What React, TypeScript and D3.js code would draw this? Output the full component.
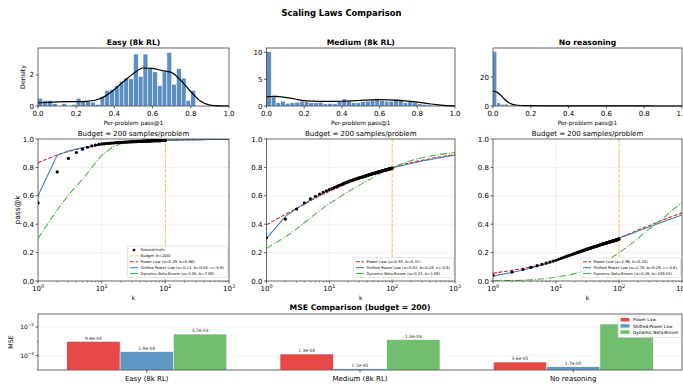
import React from "react";
import * as d3 from "d3";

const W = 683;
const H = 391;
const FONT = "DejaVu Sans, Verdana, sans-serif";

// ---- data ----
const PANEL_TITLES = ["Easy (8k RL)", "Medium (8k RL)", "No reasoning"];

// histogram (density) per panel, bins start at 0
const HIST_BIN_WIDTH = [0.025, 0.025, 0.02];
const HIST_EASY = [
  0.5, 0.35, 0.35, 0.15, 0, 0.15, 0, 0.1, 0.5, 0.3, 0.3, 0.25, 0.1, 0.6, 1.0, 1.05, 1.3, 1.6, 1.8, 1.75,
  3.35, 1.9, 3.35, 2.4, 2.2, 1.3, 2.2, 3.45, 1.4, 2.4, 1.8, 0.35, 1.0,
];
const HIST_MEDIUM = [
  10.1, 2.0, 0.6, 0.9, 0.5, 0.6, 0.7, 0.9, 0.8, 0.6, 0.6, 0.7, 0.4, 0.5, 0.4, 0.8, 1.3, 0.9, 0.6, 0.6,
  0.8, 0.9, 1.1, 1.4, 1.0, 0.9, 0.9, 1.3, 1.2, 0.6, 0.9, 0.7, 0.4, 0.3, 0.2,
];
const HIST_NONE = [37.6, 2.1, 1.2, 1.3, 0.4, 0.3, 0.2, 0.2, 0.1, 0.1, 0.05, 0.05, 0, 0.05, 0, 0.05];
const HIST_YMAX = [3.74, 10.8, 40];
const HIST_YTICKS = [[0, 2], [0, 5, 10], [0, 20]];

// KDE curves
const KDE_X = [0, 0.05, 0.1, 0.15, 0.2, 0.25, 0.3, 0.35, 0.4, 0.45, 0.5, 0.55, 0.6, 0.65, 0.7, 0.75, 0.8, 0.85, 0.9, 0.95, 1.0];
const KDE_EASY = [0.2, 0.24, 0.27, 0.28, 0.28, 0.3, 0.37, 0.62, 1.06, 1.6, 2.1, 2.45, 2.42, 2.28, 2.15, 1.62, 0.92, 0.32, 0.06, 0.01, 0];
const KDE_MEDIUM = [1.72, 1.8, 1.6, 1.3, 1.0, 0.9, 0.85, 0.85, 0.88, 0.95, 1.05, 1.15, 1.2, 1.15, 1.05, 0.9, 0.72, 0.48, 0.25, 0.08, 0.02];
const KDE_NONE_X = [0, 0.02, 0.04, 0.06, 0.08, 0.1, 0.12, 0.15, 0.2, 0.3, 0.4, 0.5, 0.6, 0.7, 0.8, 0.9, 1.0];
const KDE_NONE = [10.2, 9.6, 7.6, 4.8, 2.6, 1.3, 0.7, 0.35, 0.2, 0.12, 0.1, 0.1, 0.07, 0.04, 0.02, 0.01, 0];

// ground truth pass@k for k = 1..100
const GT_EASY = [
  0.55, 0.768, 0.863, 0.905, 0.928, 0.942, 0.951, 0.957, 0.962, 0.965,
  0.967, 0.969, 0.97, 0.971, 0.972, 0.973, 0.974, 0.975, 0.976, 0.976,
  0.977, 0.977, 0.978, 0.978, 0.979, 0.979, 0.98, 0.98, 0.98, 0.981,
  0.981, 0.981, 0.982, 0.982, 0.982, 0.983, 0.983, 0.983, 0.983, 0.984,
  0.984, 0.984, 0.984, 0.985, 0.985, 0.985, 0.985, 0.985, 0.986, 0.986,
  0.986, 0.986, 0.986, 0.986, 0.987, 0.987, 0.987, 0.987, 0.987, 0.987,
  0.987, 0.988, 0.988, 0.988, 0.988, 0.988, 0.988, 0.988, 0.988, 0.989,
  0.989, 0.989, 0.989, 0.989, 0.989, 0.989, 0.989, 0.989, 0.989, 0.989,
  0.989, 0.989, 0.989, 0.989, 0.99, 0.99, 0.99, 0.99, 0.99, 0.99,
  0.99, 0.99, 0.99, 0.99, 0.99, 0.99, 0.99, 0.99, 0.99, 0.99,
];
const GT_MEDIUM = [
  0.304, 0.436, 0.507, 0.55, 0.578, 0.597, 0.612, 0.625, 0.635, 0.643,
  0.651, 0.658, 0.665, 0.671, 0.676, 0.682, 0.687, 0.691, 0.696, 0.7,
  0.703, 0.706, 0.709, 0.712, 0.714, 0.717, 0.719, 0.721, 0.724, 0.726,
  0.728, 0.73, 0.732, 0.733, 0.735, 0.737, 0.739, 0.74, 0.742, 0.743,
  0.745, 0.746, 0.748, 0.749, 0.75, 0.752, 0.753, 0.754, 0.756, 0.757,
  0.758, 0.759, 0.76, 0.761, 0.762, 0.763, 0.764, 0.765, 0.766, 0.767,
  0.768, 0.769, 0.77, 0.771, 0.771, 0.772, 0.773, 0.774, 0.775, 0.776,
  0.776, 0.777, 0.778, 0.779, 0.779, 0.78, 0.781, 0.781, 0.782, 0.783,
  0.783, 0.784, 0.785, 0.785, 0.786, 0.787, 0.787, 0.788, 0.788, 0.789,
  0.79, 0.79, 0.791, 0.791, 0.792, 0.792, 0.793, 0.794, 0.794, 0.795,
];
const GT_NONE = [
  0.04, 0.063, 0.082, 0.096, 0.108, 0.118, 0.126, 0.133, 0.14, 0.146,
  0.153, 0.159, 0.165, 0.17, 0.175, 0.179, 0.183, 0.188, 0.191, 0.195,
  0.198, 0.201, 0.204, 0.207, 0.21, 0.212, 0.215, 0.217, 0.219, 0.222,
  0.224, 0.226, 0.228, 0.23, 0.232, 0.233, 0.235, 0.237, 0.238, 0.24,
  0.241, 0.243, 0.244, 0.246, 0.247, 0.248, 0.25, 0.251, 0.253, 0.255,
  0.256, 0.257, 0.258, 0.259, 0.26, 0.261, 0.262, 0.263, 0.264, 0.265,
  0.266, 0.267, 0.268, 0.269, 0.27, 0.271, 0.272, 0.272, 0.273, 0.274,
  0.275, 0.276, 0.276, 0.277, 0.278, 0.279, 0.28, 0.28, 0.281, 0.282,
  0.283, 0.283, 0.284, 0.285, 0.285, 0.286, 0.287, 0.287, 0.288, 0.289,
  0.289, 0.29, 0.291, 0.291, 0.292, 0.293, 0.293, 0.294, 0.294, 0.296,
];

// fitted curves, sampled at these k
const FIT_K = [1, 2, 3, 4, 5, 7, 10, 15, 20, 30, 50, 70, 100, 150, 200, 300, 500, 700, 1000];
const POWER_EASY = [0.833, 0.888, 0.912, 0.926, 0.935, 0.947, 0.958, 0.967, 0.972, 0.978, 0.984, 0.987, 0.99, 0.992, 0.993, 0.995, 0.996, 0.997, 0.998];
const SHIFTED_EASY = [0.6, 0.885, 0.915, 0.93, 0.94, 0.95, 0.96, 0.968, 0.973, 0.979, 0.984, 0.987, 0.99, 0.992, 0.993, 0.994, 0.996, 0.996, 0.997];
const BETA_EASY = [0.3, 0.5, 0.605, 0.67, 0.715, 0.8, 0.885, 0.945, 0.967, 0.984, 0.992, 0.995, 0.997, 0.998, 0.999, 0.999, 1, 1, 1];
const POWER_MEDIUM = [0.396, 0.47, 0.51, 0.54, 0.565, 0.6, 0.63, 0.665, 0.69, 0.72, 0.755, 0.78, 0.8, 0.82, 0.835, 0.85, 0.87, 0.88, 0.89];
const SHIFTED_MEDIUM = [0.3, 0.455, 0.51, 0.545, 0.57, 0.605, 0.64, 0.672, 0.695, 0.725, 0.758, 0.778, 0.797, 0.815, 0.828, 0.845, 0.863, 0.875, 0.885];
const BETA_MEDIUM = [0.23, 0.31, 0.365, 0.41, 0.445, 0.495, 0.545, 0.595, 0.63, 0.675, 0.73, 0.765, 0.797, 0.83, 0.848, 0.868, 0.887, 0.897, 0.905];
const POWER_NONE = [0.055, 0.075, 0.088, 0.099, 0.108, 0.123, 0.15, 0.172, 0.19, 0.215, 0.25, 0.275, 0.305, 0.335, 0.36, 0.39, 0.43, 0.455, 0.48];
const SHIFTED_NONE = [0.035, 0.06, 0.078, 0.092, 0.103, 0.12, 0.145, 0.17, 0.188, 0.213, 0.248, 0.273, 0.303, 0.33, 0.352, 0.38, 0.418, 0.44, 0.465];
const BETA_NONE = [0, 0.003, 0.006, 0.009, 0.012, 0.018, 0.027, 0.04, 0.052, 0.075, 0.12, 0.155, 0.198, 0.255, 0.3, 0.365, 0.44, 0.5, 0.55];

const LEGEND_POWER = ["Power Law (a=0.29, b=0.86)", "Power Law (a=0.93, b=0.31)", "Power Law (a=2.96, b=0.20)"];
const LEGEND_SHIFTED = [
  "Shifted Power Law (a=0.13, b=0.58, c=-0.9)",
  "Shifted Power Law (a=0.82, b=0.28, c=-0.8)",
  "Shifted Power Law (a=2.78, b=0.29, c=-0.6)",
];
const LEGEND_BETA = [
  "Dynamic Beta-Binom (a=3.05, b=7.08)",
  "Dynamic Beta-Binom (a=0.33, b=1.08)",
  "Dynamic Beta-Binom (a=0.26, b=108.53)",
];
const BUDGET_K = 100;

// MSE
const MSE_POWER = [9.8e-4, 1.3e-4, 3.6e-5];
const MSE_SHIFTED = [1.9e-4, 1.2e-5, 1.7e-5];
const MSE_BETA = [3.2e-3, 1.3e-3, 1.6e-2];
const MSE_SERIES = ["Power Law", "Shifted Power Law", "Dynamic Beta-Binom"];

const RED = "#e41a1c";
const BLUE = "#377eb8";
const GREEN = "#4daf4a";
const HIST_COLOR = "#5b8fc4";

const PANEL_X: [number, number][] = [[38, 229], [266.5, 455], [493, 682]];

const HISTS = [HIST_EASY, HIST_MEDIUM, HIST_NONE];
const KDES = [
  { x: KDE_X, y: KDE_EASY },
  { x: KDE_X, y: KDE_MEDIUM },
  { x: KDE_NONE_X, y: KDE_NONE },
];
const GTS = [GT_EASY, GT_MEDIUM, GT_NONE];
const FITS = [
  [POWER_EASY, SHIFTED_EASY, BETA_EASY],
  [POWER_MEDIUM, SHIFTED_MEDIUM, BETA_MEDIUM],
  [POWER_NONE, SHIFTED_NONE, BETA_NONE],
];

const sci = (v: number) => {
  const [m, e] = v.toExponential(1).split("e");
  const n = Math.abs(+e);
  return `${m}e${+e < 0 ? "-" : "+"}${n < 10 ? "0" + n : n}`;
};

const Pow10 = ({ x, y, e, size = 7 }: { x: number; y: number; e: number; size?: number }) => (
  <text x={x} y={y} textAnchor="middle" fontSize={size}>
    10
    <tspan dy={-3.2} fontSize={size * 0.7}>
      {e < 0 ? "\u2212" + Math.abs(e) : e}
    </tspan>
  </text>
);

const HistPanel = ({ i }: { i: number }) => {
  const [x0, x1] = PANEL_X[i];
  const top = 48;
  const bottom = 106;
  const x = d3.scaleLinear().domain([0, 1]).range([x0, x1]);
  const y = d3.scaleLinear().domain([0, HIST_YMAX[i]]).range([bottom, top]);
  const bw = HIST_BIN_WIDTH[i];
  const kde = KDES[i];
  const line = d3
    .line<number>()
    .x((_, j) => x(kde.x[j]))
    .y((d) => y(d))
    .curve(d3.curveMonotoneX);
  return (
    <g>
      {HISTS[i].map((v, j) =>
        v > 0 ? (
          <rect
            key={j}
            x={x(j * bw)}
            y={y(v)}
            width={x(bw) - x(0)}
            height={bottom - y(v)}
            fill={HIST_COLOR}
            stroke="#fff"
            strokeWidth={0.5}
          />
        ) : null
      )}
      <path d={line(kde.y) || ""} fill="none" stroke="#000" strokeWidth={1.2} />
      <rect x={x0} y={top} width={x1 - x0} height={bottom - top} fill="none" stroke="#000" strokeWidth={0.6} />
      {d3.range(0, 1.01, 0.2).map((t) => (
        <g key={t}>
          <line x1={x(t)} x2={x(t)} y1={bottom} y2={bottom + 2.5} stroke="#000" strokeWidth={0.6} />
          <text x={x(t)} y={bottom + 9.5} textAnchor="middle" fontSize={7}>
            {t.toFixed(1)}
          </text>
        </g>
      ))}
      {HIST_YTICKS[i].map((t) => (
        <g key={t}>
          <line x1={x0 - 2.5} x2={x0} y1={y(t)} y2={y(t)} stroke="#000" strokeWidth={0.6} />
          <text x={x0 - 4} y={y(t) + 2.5} textAnchor="end" fontSize={7}>
            {t}
          </text>
        </g>
      ))}
      <text x={(x0 + x1) / 2} y={45} textAnchor="middle" fontSize={7.7} fontWeight="bold">
        {PANEL_TITLES[i]}
      </text>
      <text x={(x0 + x1) / 2} y={124.5} textAnchor="middle" fontSize={5.8}>
        Per-problem pass@1
      </text>
      {i === 0 && (
        <text transform={`translate(25,${(top + bottom) / 2}) rotate(-90)`} textAnchor="middle" fontSize={6.3}>
          Density
        </text>
      )}
    </g>
  );
};

const ScalingPanel = ({ i }: { i: number }) => {
  const [x0, x1] = PANEL_X[i];
  const top = 139;
  const bottom = 281;
  const x = d3.scaleLog().domain([1, 1000]).range([x0, x1]);
  const y = d3.scaleLinear().domain([0, 1]).range([bottom, top]);
  const fitLine = d3
    .line<number>()
    .x((_, j) => x(FIT_K[j]))
    .y((d) => y(d));
  const [pw, sh, bb] = FITS[i];
  const minor: number[] = [];
  [1, 10, 100].forEach((d) => d3.range(2, 10).forEach((m) => minor.push(d * m)));
  const clip = `clip-mid-${i}`;
  const legendRows =
    i === 0
      ? [
          { kind: "dot", label: "Ground truth" },
          { kind: "budget", label: "Budget (k=200)" },
          { kind: "power", label: LEGEND_POWER[i] },
          { kind: "shifted", label: LEGEND_SHIFTED[i] },
          { kind: "beta", label: LEGEND_BETA[i] },
        ]
      : [
          { kind: "power", label: LEGEND_POWER[i] },
          { kind: "shifted", label: LEGEND_SHIFTED[i] },
          { kind: "beta", label: LEGEND_BETA[i] },
        ];
  const rowH = 5.9;
  const lgW = 100;
  const lgH = legendRows.length * rowH + 2;
  const lgX = x1 - lgW - 1.5;
  const lgY = bottom - lgH - 3.5;
  return (
    <g>
      <defs>
        <clipPath id={clip}>
          <rect x={x0} y={top} width={x1 - x0} height={bottom - top} />
        </clipPath>
      </defs>
      {[0.2, 0.4, 0.6, 0.8].map((t) => (
        <line key={t} x1={x0} x2={x1} y1={y(t)} y2={y(t)} stroke="#b0b0b0" strokeOpacity={0.3} strokeWidth={0.6} />
      ))}
      {[10, 100].map((t) => (
        <line key={t} x1={x(t)} x2={x(t)} y1={top} y2={bottom} stroke="#b0b0b0" strokeOpacity={0.3} strokeWidth={0.6} />
      ))}
      <g clipPath={`url(#${clip})`}>
        <line
          x1={x(BUDGET_K)}
          x2={x(BUDGET_K)}
          y1={top}
          y2={bottom}
          stroke="#ffa500"
          strokeOpacity={0.75}
          strokeWidth={0.9}
          strokeDasharray="3.5,1.5"
        />
        <path d={fitLine(pw) || ""} fill="none" stroke={RED} strokeWidth={1.05} strokeDasharray="3.9,1.7" />
        <path d={fitLine(sh) || ""} fill="none" stroke={BLUE} strokeWidth={1.05} />
        <path d={fitLine(bb) || ""} fill="none" stroke={GREEN} strokeWidth={1.05} strokeDasharray="6.7,1.7,1,1.7" />
        {GTS[i].map((v, j) => (
          <circle key={j} cx={x(j + 1)} cy={y(v)} r={1.6} fill="#000" />
        ))}
      </g>
      <rect x={x0} y={top} width={x1 - x0} height={bottom - top} fill="none" stroke="#000" strokeWidth={0.6} />
      {[1, 10, 100, 1000].map((t, j) => (
        <g key={t}>
          <line x1={x(t)} x2={x(t)} y1={bottom} y2={bottom + 2.5} stroke="#000" strokeWidth={0.6} />
          <Pow10 x={x(t)} y={bottom + 10} e={j} />
        </g>
      ))}
      {minor.map((t) => (
        <line key={t} x1={x(t)} x2={x(t)} y1={bottom} y2={bottom + 1.4} stroke="#000" strokeWidth={0.45} />
      ))}
      {d3.range(0, 1.01, 0.2).map((t) => (
        <g key={t}>
          <line x1={x0 - 2.5} x2={x0} y1={y(t)} y2={y(t)} stroke="#000" strokeWidth={0.6} />
          <text x={x0 - 4} y={y(t) + 2.5} textAnchor="end" fontSize={7}>
            {t.toFixed(1)}
          </text>
        </g>
      ))}
      <text x={(x0 + x1) / 2} y={135.5} textAnchor="middle" fontSize={7}>
        Budget = 200 samples/problem
      </text>
      <text x={(x0 + x1) / 2} y={299.5} textAnchor="middle" fontSize={6}>
        k
      </text>
      {i === 0 && (
        <text transform={`translate(20,${(top + bottom) / 2}) rotate(-90)`} textAnchor="middle" fontSize={7.5}>
          pass@k
        </text>
      )}
      <g fontSize={3.75}>
        <rect x={lgX} y={lgY} width={lgW} height={lgH} rx={1.2} fill="#fff" fillOpacity={0.8} stroke="#ccc" strokeWidth={0.5} />
        {legendRows.map((r, j) => {
          const cy = lgY + 1 + rowH * (j + 0.5);
          const hx = lgX + 2.5;
          return (
            <g key={j}>
              {r.kind === "dot" && <circle cx={hx + 4} cy={cy} r={1.3} fill="#000" />}
              {r.kind === "budget" && (
                <line x1={hx} x2={hx + 8} y1={cy} y2={cy} stroke="#ffa500" strokeOpacity={0.75} strokeWidth={0.9} strokeDasharray="3.5,1.5" />
              )}
              {r.kind === "power" && (
                <line x1={hx} x2={hx + 8} y1={cy} y2={cy} stroke={RED} strokeWidth={1.05} strokeDasharray="3.9,1.7" />
              )}
              {r.kind === "shifted" && <line x1={hx} x2={hx + 8} y1={cy} y2={cy} stroke={BLUE} strokeWidth={1.05} />}
              {r.kind === "beta" && <line x1={hx} x2={hx + 8} y1={cy} y2={cy} stroke={GREEN} strokeWidth={1.05} />}
              <text x={hx + 10.5} y={cy + 1.4}>
                {r.label}
              </text>
            </g>
          );
        })}
      </g>
    </g>
  );
};

const MsePanel = () => {
  const x0 = 38;
  const x1 = 682;
  const top = 314;
  const bottom = 370;
  const x = d3.scaleLinear().domain([-0.51, 2.51]).range([x0, x1]);
  const y = d3.scaleLog().domain([1e-5, 0.08]).range([bottom, top]);
  const width = 0.25;
  const series = [
    { vals: MSE_POWER, color: RED, off: -width },
    { vals: MSE_SHIFTED, color: BLUE, off: 0 },
    { vals: MSE_BETA, color: GREEN, off: width },
  ];
  const bw = x(width) - x(0);
  return (
    <g>
      {[1e-2, 1e-4].map((t) => (
        <line key={t} x1={x0} x2={x1} y1={y(t)} y2={y(t)} stroke="#b0b0b0" strokeOpacity={0.3} strokeWidth={0.6} />
      ))}
      {series.map((s, si) =>
        s.vals.map((v, j) => {
          const cx = x(j + s.off);
          return (
            <g key={`${si}-${j}`}>
              <rect
                x={cx - bw / 2}
                y={y(v)}
                width={bw}
                height={bottom - y(v)}
                fill={s.color}
                fillOpacity={0.8}
                stroke="#fff"
                strokeWidth={0.5}
              />
              <text x={cx} y={y(v) - 1.6} textAnchor="middle" fontSize={4.4} fill="#333">
                {sci(v)}
              </text>
            </g>
          );
        })
      )}
      <rect x={x0} y={top} width={x1 - x0} height={bottom - top} fill="none" stroke="#000" strokeWidth={0.6} />
      {[-2, -4].map((e) => (
        <g key={e}>
          <line x1={x0 - 2.5} x2={x0} y1={y(10 ** e)} y2={y(10 ** e)} stroke="#000" strokeWidth={0.6} />
          <text x={x0 - 4} y={y(10 ** e) + 2.5} textAnchor="end" fontSize={6}>
            10
            <tspan dy={-3} fontSize={4.2}>
              {"\u2212" + Math.abs(e)}
            </tspan>
          </text>
        </g>
      ))}
      {[-3, -5].map((e) => (
        <line key={e} x1={x0 - 1.4} x2={x0} y1={y(10 ** e)} y2={y(10 ** e)} stroke="#000" strokeWidth={0.45} />
      ))}
      {PANEL_TITLES.map((c, j) => (
        <g key={c}>
          <line x1={x(j)} x2={x(j)} y1={bottom} y2={bottom + 2.5} stroke="#000" strokeWidth={0.6} />
          <text x={x(j)} y={bottom + 11} textAnchor="middle" fontSize={7}>
            {c}
          </text>
        </g>
      ))}
      <text x={(x0 + x1) / 2} y={310} textAnchor="middle" fontSize={7.7} fontWeight="bold">
        MSE Comparison (budget = 200)
      </text>
      <text transform={`translate(13,${(top + bottom) / 2}) rotate(-90)`} textAnchor="middle" fontSize={6.3}>
        MSE
      </text>
      <g fontSize={4.3}>
        <rect x={618} y={316} width={63} height={21.5} rx={1.2} fill="#fff" fillOpacity={0.92} stroke="#ccc" strokeWidth={0.5} />
        {MSE_SERIES.map((name, j) => (
          <g key={name}>
            <rect x={620.5} y={318 + j * 6.2} width={9} height={3.4} fill={series[j].color} fillOpacity={0.8} />
            <text x={633} y={321.3 + j * 6.2}>
              {name}
            </text>
          </g>
        ))}
      </g>
    </g>
  );
};

export default function App() {
  return (
    <svg
      width={W}
      height={H}
      viewBox={`0 0 ${W} ${H}`}
      style={{ position: "absolute", left: 0, top: 0, background: "#fff" }}
      fontFamily={FONT}
      fill="#000"
    >
      <rect width={W} height={H} fill="#fff" />
      <text x={W / 2} y={16} textAnchor="middle" fontSize={8.4} fontWeight="bold">
        Scaling Laws Comparison
      </text>
      {[0, 1, 2].map((i) => (
        <HistPanel key={`h${i}`} i={i} />
      ))}
      {[0, 1, 2].map((i) => (
        <ScalingPanel key={`s${i}`} i={i} />
      ))}
      <MsePanel />
    </svg>
  );
}
